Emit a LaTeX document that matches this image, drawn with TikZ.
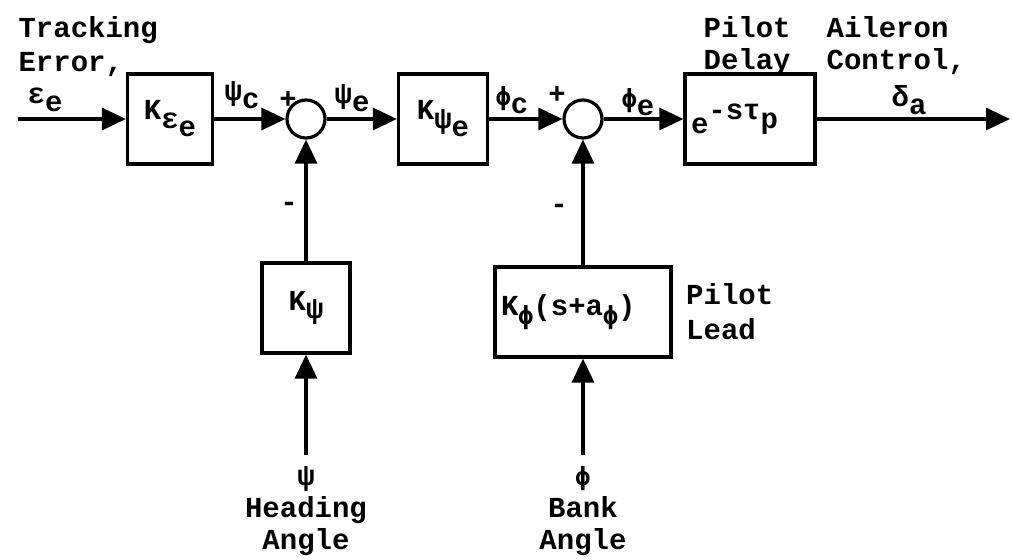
\documentclass[tikz,border=0pt]{standalone}
\usepackage{fontspec}
\setmainfont{Liberation Mono}
\newfontfamily\gkfont{DejaVu Sans Mono}
\usepackage{tikz}
\usetikzlibrary{arrows.meta,positioning}
\newcommand{\lo}[1]{\raisebox{-0.55ex}{#1}}
\newcommand{\vphi}{{\gkfont\fontsize{12.5}{12}\selectfont ϕ}}

\begin{document}
\begin{tikzpicture}[
  x=0.5pt, y=-0.5pt,
  font=\bfseries\fontsize{14.5}{16}\selectfont,
  line width=1.6pt,
  blk/.style={draw, line width=1.6pt, minimum height=45pt, inner sep=3pt},
  sumc/.style={draw, circle, line width=1.6pt, minimum size=19pt, inner sep=0pt},
  lbl/.style={inner sep=0pt},
  arrow/.style={-{Triangle[length=12pt,width=11pt]}, line width=1.6pt}
]
  \useasboundingbox (0,0) rectangle (1012,560);

  \coordinate (in) at (18,119);
  \node[blk, minimum width=42.5pt] (kee) at (170,119) {K\lo{ε\lo{e}}};
  \node[sumc] (s1) at (306,119) {};
  \node[blk, minimum width=44.5pt] (kpe) at (443,119) {K\lo{ψ\lo{e}}};
  \node[sumc] (s2) at (583,119) {};
  \node[blk, minimum width=65pt, text width=59pt, align=left] (delay) at (750,119) {e\raisebox{0.9ex}{-sτ\lo{p}}};
  \coordinate (out) at (1010,119);

  \node[blk, minimum width=44pt] (kpsi) at (306,308) {K\lo{ψ}};
  \node[blk, minimum width=88pt, text width=82pt, align=left] (kphi) at (583,312) {K\lo{\vphi}(s+a\lo{\vphi})};

  \node[lbl, outer ysep=6pt, align=center, anchor=north] (hdg) at (306,455) {ψ\\Heading\\Angle};
  \node[lbl, outer ysep=6pt, align=center, anchor=north] (bank) at (583,455) {\vphi\\Bank\\Angle};

  \node[lbl, align=left, anchor=north west] (track) at (17,15) {Tracking\\[1pt]Error,};
  \node[lbl, align=left, anchor=north west] (pdelay) at (702,15) {Pilot\\Delay};
  \node[lbl, align=left, anchor=north west] (ailer) at (825,15) {Aileron\\Control,};
  \node[lbl, align=left, right=6pt of kphi] (plead) {Pilot\\[1.5pt]Lead};

  \node[lbl] (lee) at (45,100) {ε\lo{e}};
  \node[lbl] (lpc) at (242,95) {ψ\lo{c}};
  \node[lbl] (p1) at (288,100) {+};
  \node[lbl] (lpe) at (352,98) {ψ\lo{e}};
  \node[lbl] (lfc) at (512,100) {\vphi\lo{c}};
  \node[lbl] (p2) at (557,95) {+};
  \node[lbl] (lfe) at (638,102) {\vphi\lo{e}};
  \node[lbl] (lda) at (909,100) {δ\lo{a}};
  \node[lbl] (m1) at (289,207) {-};
  \node[lbl] (m2) at (559,209) {-};

  \draw[arrow] (in) -- (kee);
  \draw[arrow] (kee) -- (s1);
  \draw[arrow] (s1) -- (kpe);
  \draw[arrow] (kpe) -- (s2);
  \draw[arrow] (s2) -- (delay);
  \draw[arrow] (delay) -- (out);
  \draw[arrow] (kpsi) -- (s1);
  \draw[arrow] (kphi) -- (s2);
  \draw[arrow] (hdg) -- (kpsi);
  \draw[arrow] (bank) -- (kphi);
\end{tikzpicture}
\end{document}
